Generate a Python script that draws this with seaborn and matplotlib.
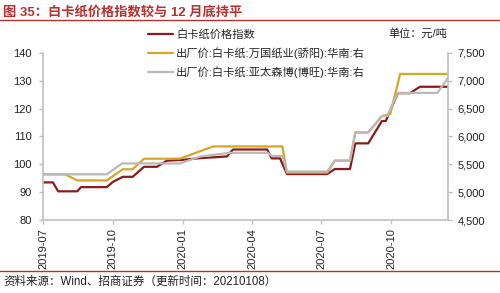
import matplotlib
matplotlib.use('Agg')
import matplotlib.pyplot as plt
import matplotlib.dates as mdates
import matplotlib.ticker as mticker
from matplotlib.lines import Line2D
import seaborn as sns
import pandas as pd

sns.set_theme(style='white')
plt.rcParams['font.family'] = ['Liberation Sans', 'Noto Sans CJK SC']
plt.rcParams['axes.unicode_minus'] = False

# ---- data ----
index_dates = ['2019-07-01', '2019-07-14', '2019-07-21', '2019-08-15', '2019-08-20',
               '2019-09-23', '2019-10-01', '2019-10-14', '2019-10-27', '2019-11-11',
               '2019-11-28', '2019-12-11', '2020-01-01', '2020-01-24', '2020-02-28',
               '2020-03-07', '2020-04-21', '2020-04-27', '2020-05-08', '2020-05-17',
               '2020-07-09', '2020-07-19', '2020-08-08', '2020-08-15', '2020-09-01',
               '2020-09-19', '2020-09-24', '2020-10-10', '2020-10-26', '2020-11-08',
               '2020-12-15']
index_values = [93.5, 93.5, 90.3, 90.3, 91.8,
                91.8, 93.7, 95.5, 95.5, 99.1,
                99.1, 101.3, 101.6, 102.2, 102.8,
                105.3, 105.3, 102.1, 102.1, 96.5,
                96.5, 98.3, 98.3, 107.5, 107.5,
                115.5, 115.5, 125.5, 125.5, 127.8,
                127.8]

wanguo_dates = ['2019-07-01', '2019-07-30', '2019-08-15', '2019-09-23', '2019-10-01',
                '2019-10-14', '2019-10-27', '2019-11-11', '2019-12-28', '2020-02-10',
                '2020-05-11', '2020-05-17', '2020-07-09', '2020-07-19', '2020-08-08',
                '2020-08-15', '2020-09-01', '2020-09-19', '2020-09-30', '2020-10-13',
                '2020-12-15']
wanguo_values = [5320, 5320, 5210, 5210, 5290,
                 5410, 5410, 5600, 5600, 5820,
                 5820, 5350, 5350, 5565, 5565,
                 6070, 6070, 6365, 6400, 7120,
                 7120]

app_dates = ['2019-07-01', '2019-09-23', '2019-10-13', '2019-12-28', '2020-01-24',
             '2020-03-03', '2020-04-22', '2020-04-27', '2020-05-11', '2020-05-17',
             '2020-07-09', '2020-07-19', '2020-08-08', '2020-08-15', '2020-09-01',
             '2020-09-19', '2020-09-26', '2020-10-10', '2020-12-01', '2020-12-15']
app_values = [5320, 5320, 5515, 5515, 5640,
              5705, 5705, 5650, 5650, 5370,
              5370, 5565, 5565, 6070, 6070,
              6365, 6365, 6780, 6780, 7050]

labels = ['白卡纸价格指数',
          '出厂价:白卡纸:万国纸业(骄阳):华南:右',
          '出厂价:白卡纸:亚太森博(博旺):华南:右']
xtick_dates = ['2019-07-01', '2019-10-01', '2020-01-01', '2020-04-01', '2020-07-01', '2020-10-01']
xtick_labels = ['2019-07', '2019-10', '2020-01', '2020-04', '2020-07', '2020-10']
left_ticks = [80, 90, 100, 110, 120, 130, 140]
right_ticks = [4500, 5000, 5500, 6000, 6500, 7000, 7500]

c_red = '#8B1A1A'
c_gold = '#D4A62A'
c_gray = '#BDB7B7'
spine_c = '#BFBFBF'

fig = plt.figure(figsize=(5, 2.93), dpi=100)
ax = fig.add_axes([0.086, 0.249, 0.810, 0.571])
ax2 = ax.twinx()

sns.lineplot(x=pd.to_datetime(index_dates), y=index_values, ax=ax, color=c_red, lw=1.6)
sns.lineplot(x=pd.to_datetime(wanguo_dates), y=wanguo_values, ax=ax2, color=c_gold, lw=1.6)
sns.lineplot(x=pd.to_datetime(app_dates), y=app_values, ax=ax2, color=c_gray, lw=1.6)

ax.set_xlim(pd.Timestamp('2019-07-01'), pd.Timestamp('2020-12-15'))
ax.set_ylim(80, 140)
ax2.set_ylim(4500, 7500)
ax.set_yticks(left_ticks)
ax2.set_yticks(right_ticks)
ax2.yaxis.set_major_formatter(mticker.StrMethodFormatter('{x:,.0f}'))
ax.set_xticks(pd.to_datetime(xtick_dates))
ax.set_xticklabels(xtick_labels, rotation=90)
for a in (ax, ax2):
    a.set_xlabel('')
    a.set_ylabel('')
    a.grid(False)

for s in ('top', 'right'):
    ax.spines[s].set_visible(False)
for s in ('top', 'left', 'bottom'):
    ax2.spines[s].set_visible(False)
for s in ('left', 'bottom'):
    ax.spines[s].set_color(spine_c)
    ax.spines[s].set_linewidth(1.2)
ax2.spines['right'].set_color(spine_c)
ax2.spines['right'].set_linewidth(1.2)

ax.tick_params(axis='y', left=True, length=3, width=1, color=spine_c, labelsize=8, pad=5, labelcolor='#222222')
ax.tick_params(axis='x', bottom=True, length=3, width=1, color=spine_c, labelsize=8, pad=3, labelcolor='#222222')
ax2.tick_params(axis='y', right=True, length=3, width=1, color=spine_c, labelsize=8, pad=4, labelcolor='#222222')

handles = [Line2D([], [], color=c_red, lw=1.6),
           Line2D([], [], color=c_gold, lw=1.6),
           Line2D([], [], color=c_gray, lw=1.6)]
fig.legend(handles, labels, loc='upper left', bbox_to_anchor=(0.296, 0.9),
           frameon=False, fontsize=8.1, handlelength=2.2, handletextpad=0.3,
           labelspacing=0.66, borderaxespad=0, borderpad=0)

fig.text(0.776, 0.887, '单位：元/吨', fontsize=8, va='center', ha='left', color='#222222')

fig.text(0.006, 0.959, '图 35：白卡纸价格指数较与 12 月底持平', fontsize=9.5,
         fontweight='bold', color='#B8312F', va='center', ha='left')
fig.add_artist(Line2D([0, 1], [0.932, 0.932], transform=fig.transFigure, color='#B8312F', lw=1))
fig.add_artist(Line2D([0, 1], [0.075, 0.075], transform=fig.transFigure, color='#B8312F', lw=1))
fig.text(0.006, 0.037, '资料来源：Wind、招商证券（更新时间：20210108）', fontsize=8.3,
         color='#222222', va='center', ha='left')

fig.savefig('out.png', dpi=100)
